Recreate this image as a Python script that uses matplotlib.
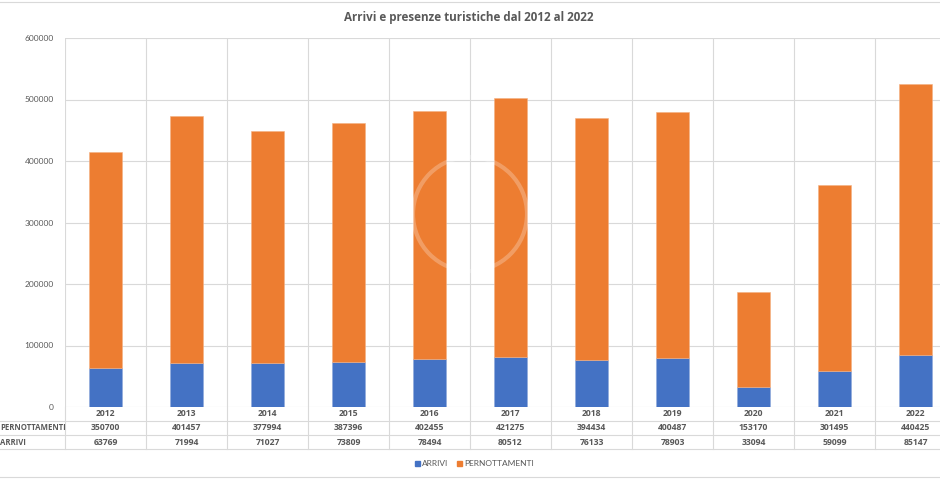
import matplotlib
matplotlib.use("Agg")
import matplotlib.pyplot as plt
from matplotlib.lines import Line2D
from matplotlib.patches import Ellipse, Rectangle

years = ["2012", "2013", "2014", "2015", "2016", "2017", "2018", "2019", "2020", "2021", "2022"]
pernottamenti = [350700, 401457, 377994, 387396, 402455, 421275, 394434, 400487, 153170, 301495, 440425]
arrivi = [63769, 71994, 71027, 73809, 78494, 80512, 76133, 78903, 33094, 59099, 85147]
yticks = [0, 100000, 200000, 300000, 400000, 500000, 600000]

BLUE = "#4472C4"
ORANGE = "#ED7D31"
GRID = "#D9D9D9"
TXT = "#595959"
FONT = ["Lato", "DejaVu Sans"]
BOLDFONT = ["Open Sans", "DejaVu Sans"]
plt.rcParams["font.family"] = FONT

W, H = 940, 480
fig = plt.figure(figsize=(9.4, 4.8), dpi=100)

def fx(px):
    return px / W

def fy(py):
    return 1 - py / H

left_px, right_px, top_px, zero_px = 65, 956, 38, 407
ax = fig.add_axes([fx(left_px), fy(zero_px), (right_px - left_px) / W, (zero_px - top_px) / H])

x = list(range(len(years)))
ax.bar(x, arrivi, width=0.41, color=BLUE, edgecolor="#8EA9DB", linewidth=0.4, zorder=3)
ax.bar(x, pernottamenti, bottom=arrivi, width=0.41, color=ORANGE, edgecolor="#F4B183", linewidth=0.4, zorder=3)

ax.set_xlim(-0.5, len(years) - 0.5)
ax.set_ylim(0, 600000)
ax.set_yticks(yticks)
ax.set_yticklabels([str(v) for v in yticks], fontsize=6, color=TXT)
ax.tick_params(axis="y", length=0, pad=8)
ax.set_xticks([])
for s in ax.spines.values():
    s.set_visible(False)
for v in yticks:
    ax.axhline(v, color=GRID, lw=0.8, zorder=1)
for i in range(len(years) + 1):
    ax.axvline(i - 0.5, color=GRID, lw=0.8, zorder=1)

# data table below the plot
def ya(py):
    return (zero_px - py) / (zero_px - top_px)

tr = ax.get_xaxis_transform()
row_lines = [420.5, 435, 449]
for py in row_lines:
    fig.add_artist(Line2D([0, fx(right_px)], [fy(py), fy(py)], color=GRID, lw=0.8))
for i in range(len(years) + 1):
    ax.plot([i - 0.5, i - 0.5], [0, ya(449)], transform=tr, color=GRID, lw=0.8, clip_on=False, zorder=1)

row_y = [414, 428, 442.5]
tkw = dict(ha="center", va="center", fontsize=6.2, color=TXT, fontweight="bold", family=BOLDFONT)
for i in range(len(years)):
    ax.text(i, ya(row_y[0]), years[i], transform=tr, **tkw)
    ax.text(i, ya(row_y[1]), str(pernottamenti[i]), transform=tr, **tkw)
    ax.text(i, ya(row_y[2]), str(arrivi[i]), transform=tr, **tkw)
fig.text(fx(0.5), fy(row_y[1]), "PERNOTTAMENTI", ha="left", va="center", fontsize=5.6, color=TXT,
         fontweight="bold", family=BOLDFONT)
fig.text(fx(0.5), fy(row_y[2]), "ARRIVI", ha="left", va="center", fontsize=5.6, color=TXT,
         fontweight="bold", family=BOLDFONT)

# legend
leg_y = 463.5
fig.add_artist(Rectangle((fx(415), fy(leg_y + 2.5)), 5 / W, 5 / H, color=BLUE, transform=fig.transFigure))
fig.text(fx(422), fy(leg_y), "ARRIVI", ha="left", va="center", fontsize=6, color=TXT)
fig.add_artist(Rectangle((fx(457), fy(leg_y + 2.5)), 5 / W, 5 / H, color=ORANGE, transform=fig.transFigure))
fig.text(fx(464), fy(leg_y), "PERNOTTAMENTI", ha="left", va="center", fontsize=6, color=TXT)

# title
fig.text(fx(469), fy(18), "Arrivi e presenze turistiche dal 2012 al 2022", ha="center", va="center",
         fontsize=8.4, color=TXT, fontweight="bold", family=BOLDFONT)

# chart-area borders
fig.add_artist(Line2D([0, 1], [fy(2), fy(2)], color=GRID, lw=0.8))
fig.add_artist(Line2D([0, 1], [fy(477), fy(477)], color=GRID, lw=0.8))

# faint watermark ring
fig.add_artist(Ellipse((fx(470), fy(214)), 114 / W, 114 / H, fill=False, edgecolor="white",
                       alpha=0.25, lw=3, transform=fig.transFigure, zorder=10))

fig.savefig("out.png", dpi=100)
